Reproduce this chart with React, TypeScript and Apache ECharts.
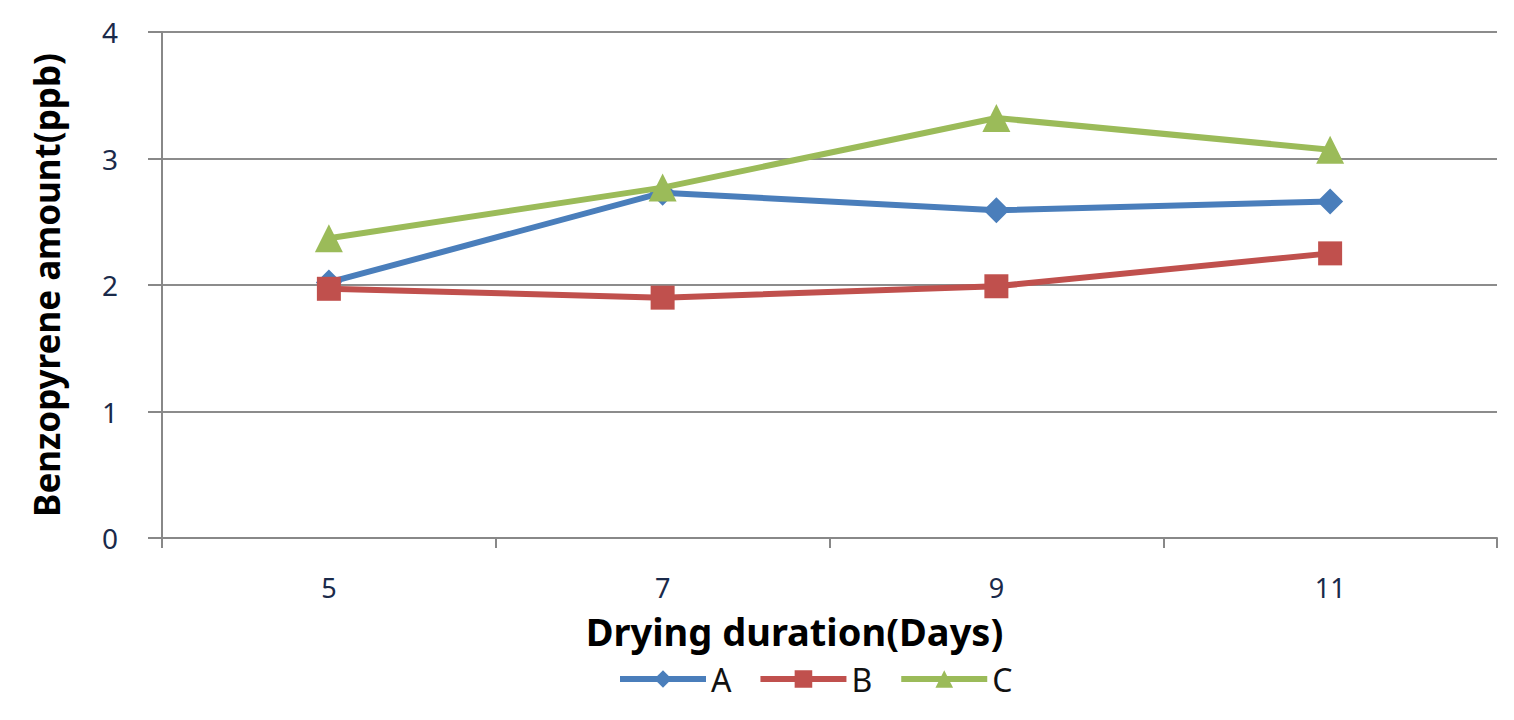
import React, { useEffect, useRef } from "react";
import * as echarts from "echarts";

const categories = ["5", "7", "9", "11"];
const seriesA = [2.02, 2.73, 2.59, 2.66];
const seriesB = [1.97, 1.90, 1.99, 2.25];
const seriesC = [2.37, 2.77, 3.32, 3.07];
const yTicks = [0, 1, 2, 3, 4];

export default function App() {
  const ref = useRef<HTMLDivElement>(null);
  useEffect(() => {
    if (!ref.current) return;
    const chart = echarts.init(ref.current, undefined, { renderer: "svg" });
    const font = "'Noto Sans', 'Open Sans', sans-serif";
    const mk = (name: string, data: number[], symbol: string, size: number, color: string, z: number) => ({
      name,
      type: "line",
      data,
      symbol,
      symbolSize: size,
      lineStyle: { width: 6, color },
      itemStyle: { color },
      z,
    });
    chart.setOption({
      animation: false,
      backgroundColor: "#ffffff",
      grid: { left: 162, right: 17, top: 32, bottom: 182, containLabel: false },
      legend: {
        bottom: 20,
        left: 612,
        itemWidth: 86,
        itemHeight: 22,
        itemGap: 26,
        textStyle: { fontFamily: font, fontSize: 32, color: "#111" },
        lineStyle: { width: 6 },
        data: ["A", "B", "C"],
      },
      xAxis: {
        type: "category",
        data: categories,
        boundaryGap: true,
        name: "Drying duration(Days)",
        nameLocation: "middle",
        nameGap: 74,
        nameTextStyle: { fontFamily: font, fontSize: 38, fontWeight: "bold", color: "#000", padding: [0, 70, 0, 0] },
        axisLine: { lineStyle: { color: "#888", width: 2 } },
        axisTick: { show: true, length: 10, lineStyle: { color: "#888", width: 2 } },
        axisLabel: { fontFamily: font, fontSize: 27, color: "#1a2a4a", margin: 35, lineHeight: 28 },
      },
      yAxis: {
        type: "value",
        min: yTicks[0],
        max: yTicks[yTicks.length - 1],
        interval: 1,
        name: "Benzopyrene amount(ppb)",
        nameLocation: "middle",
        nameGap: 98,
        nameRotate: 90,
        nameTextStyle: { fontFamily: font, fontSize: 35, fontWeight: "bold", color: "#000" },
        axisLine: { show: true, lineStyle: { color: "#888", width: 2 } },
        axisTick: { show: true, length: 14, lineStyle: { color: "#888", width: 2 } },
        axisLabel: { fontFamily: font, fontSize: 28, color: "#1a2a4a", margin: 44 },
        splitLine: { show: true, lineStyle: { color: "#8c8c8c", width: 2 } },
      },
      series: [
        mk("A", seriesA, "diamond", 26, "#4a7ebb", 3),
        mk("B", seriesB, "rect", 24, "#c0504d", 4),
        mk("C", seriesC, "triangle", 28, "#9bbb59", 5),
      ],
    });
    return () => chart.dispose();
  }, []);
  return (
    <div
      ref={ref}
      style={{ position: "fixed", left: 0, top: 0, width: 1514, height: 720 }}
    />
  );
}
